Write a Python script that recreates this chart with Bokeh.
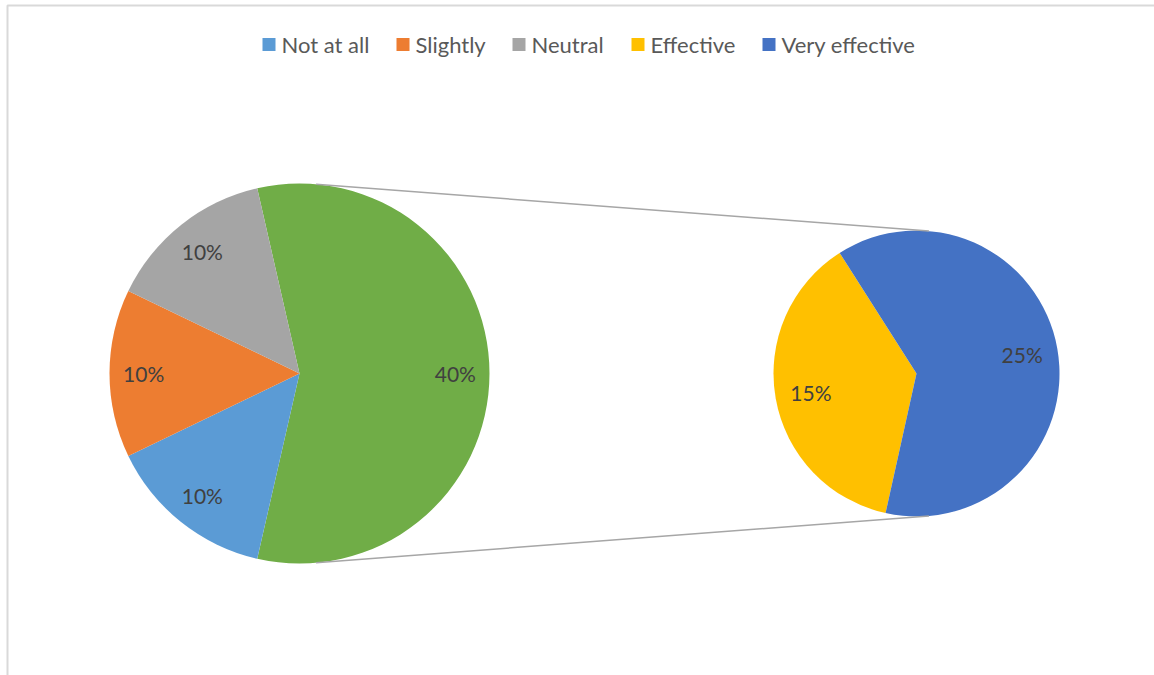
import math
from bokeh.plotting import figure
from bokeh.models import Range1d
from bokeh.core.properties import value
from bokeh.embed import file_html
from bokeh.resources import INLINE

# ---- data ----
categories = ["Not at all", "Slightly", "Neutral", "Effective", "Very effective"]
values = [10, 10, 10, 15, 25]
colors = ["#5B9BD5", "#ED7D31", "#A5A5A5", "#FFC000", "#4472C4"]
other_color = "#70AD47"
n_second = 2  # last two categories go to the second pie

W, H = 1154, 675
p = figure(width=W, height=H, output_backend="svg", toolbar_location=None,
           x_range=Range1d(0, W), y_range=Range1d(0, H), min_border=0)
p.axis.visible = False
p.grid.visible = False
p.outline_line_color = None
p.background_fill_color = "white"

def sy(y):
    return H - y

FONT = value("Lato")

# chart border
p.quad(left=7, right=W + 10, top=sy(5), bottom=-10, fill_color=None,
       line_color="#D9D9D9", line_width=2)

# ---- left pie ----
cx1, cy1, r1 = 299, sy(373), 190
first_vals = values[:-n_second]
second_vals = values[-n_second:]
other = sum(second_vals)
total = sum(values)

half = other / total * math.pi
p.wedge(x=[cx1], y=[cy1], radius=r1, start_angle=[-half], end_angle=[half],
        fill_color=other_color, line_color=None)
lx, ly, lt = [cx1 + 0.82 * r1], [cy1], [f"{other}%"]
start = -half
for v, c in zip(first_vals, colors):
    end = start - v / total * 2 * math.pi
    p.wedge(x=[cx1], y=[cy1], radius=r1, start_angle=[end], end_angle=[start],
            fill_color=c, line_color=None)
    mid = (start + end) / 2
    lx.append(cx1 + 0.82 * r1 * math.cos(mid))
    ly.append(cy1 + 0.82 * r1 * math.sin(mid))
    lt.append(f"{v}%")
    start = end

# ---- right pie ----
cx2, cy2, r2 = 916, sy(373), 143
a = math.radians(122.5)
for v, c in zip(second_vals, colors[-n_second:]):
    b = a + v / other * 2 * math.pi
    p.wedge(x=[cx2], y=[cy2], radius=r2, start_angle=[a], end_angle=[b],
            fill_color=c, line_color=None)
    mid = (a + b) / 2
    lx.append(cx2 + 0.75 * r2 * math.cos(mid))
    ly.append(cy2 + 0.75 * r2 * math.sin(mid))
    lt.append(f"{v}%")
    a = b

# connector lines
ang = math.radians(85)
for s in (1, -1):
    p.line(x=[cx1 + r1 * math.cos(ang), cx2 + r2 * math.cos(ang)],
           y=[cy1 + s * r1 * math.sin(ang), cy2 + s * r2 * math.sin(ang)],
           line_color="#A6A6A6", line_width=1.5)

# data labels
p.text(x=lx, y=ly, text=lt, text_align="center", text_baseline="middle",
       text_font=FONT, text_font_size="21px", text_color="#404040")

# ---- legend ----
leg_sq_x = [262, 396, 512, 631, 762]
leg_y = sy(44)
p.rect(x=[xx + 6.5 for xx in leg_sq_x], y=[leg_y] * len(categories), width=13, height=13,
       fill_color=colors, line_color=None)
p.text(x=[xx + 19 for xx in leg_sq_x], y=[leg_y] * len(categories), text=categories,
       text_align="left", text_baseline="middle", text_font=FONT,
       text_font_size="22px", text_color="#595959")

open("out.html", "w").write(file_html(p, INLINE))
